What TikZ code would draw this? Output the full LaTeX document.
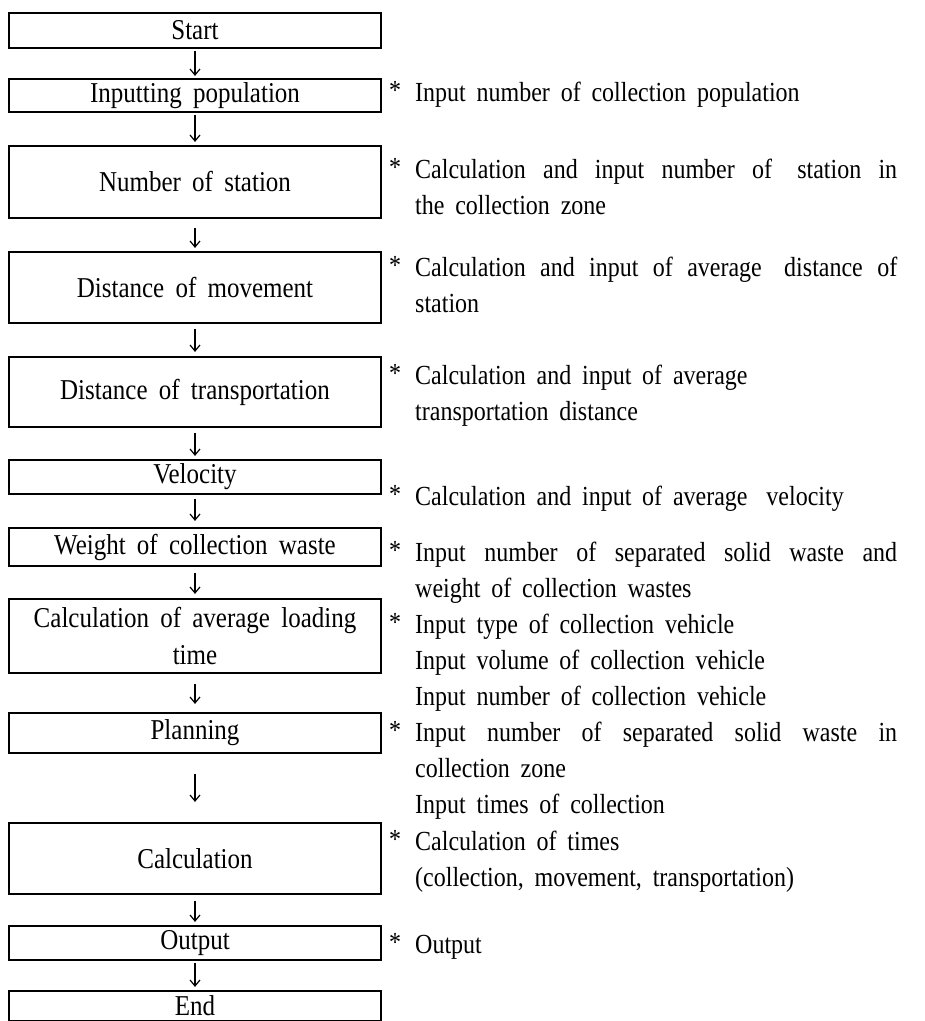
\documentclass[tikz,border=0pt]{standalone}
\usepackage{fontspec}
\setmainfont{Liberation Serif}[WordSpace=1.8]
\usepackage{graphicx}
\usetikzlibrary{arrows.meta}

% slightly tall lettering, as set in the printed chart
\newcommand\tallt[1]{\scalebox{1}[1.15]{#1}}
% first line of a note: raised star, then the text
\newcommand\starred[1]{\makebox[26pt][l]{\raisebox{1.5pt}{*}}#1}
% first line of a note stretched to the full column width
\newcommand\fullline[1]{\makebox[482pt][s]{#1}}

\begin{document}
\begin{tikzpicture}[x=1pt,y=-1pt,
  stepbox/.style={draw, line width=2.2pt, minimum width=372pt, inner sep=0pt,
                  align=center, font=\fontsize{25}{37}\selectfont},
  flow/.style={-{Straight Barb[length=6pt,width=10pt]}, line width=1.2pt},
  note/.style={anchor=base west, inner sep=0pt, font=\fontsize{24}{24}\selectfont}]
\useasboundingbox[fill=white] (0,0) rectangle (925,1021);

% flow chart boxes
\node[stepbox, minimum height=35pt] (start) at (195,30.5)  {\tallt{Start}};
\node[stepbox, minimum height=33pt] (inp)   at (195,95.5)  {\tallt{Inputting population}};
\node[stepbox, minimum height=72pt] (nos)   at (195,182)   {\tallt{Number of station}};
\node[stepbox, minimum height=71pt] (dm)    at (195,287.5) {\tallt{Distance of movement}};
\node[stepbox, minimum height=70pt] (dt)    at (195,392)   {\tallt{Distance of transportation}};
\node[stepbox, minimum height=34pt] (vel)   at (195,477)   {\tallt{Velocity}};
\node[stepbox, minimum height=38pt] (wt)    at (195,547)   {\tallt{Weight of collection waste}};
\node[stepbox, minimum height=74pt] (ca)    at (195,636)   {\tallt{Calculation of average loading}\\\tallt{time}};
\node[stepbox, minimum height=40pt] (pl)    at (195,733)   {\tallt{Planning}};
\node[stepbox, minimum height=71pt] (calc)  at (195,858.5) {\tallt{Calculation}};
\node[stepbox, minimum height=34pt] (out)   at (195,943)   {\tallt{Output}};
\node[stepbox, minimum height=30pt] (end)   at (195,1006)  {\tallt{End}};

% connecting arrows
\draw[flow, shorten <=2pt,  shorten >=2pt]  (start) -- (inp);
\draw[flow, shorten <=2pt,  shorten >=3pt]  (inp)   -- (nos);
\draw[flow, shorten <=9pt,  shorten >=3pt]  (nos)   -- (dm);
\draw[flow, shorten <=5pt,  shorten >=4pt]  (dm)    -- (dt);
\draw[flow, shorten <=5pt,  shorten >=3pt]  (dt)    -- (vel);
\draw[flow, shorten <=4pt,  shorten >=6pt]  (vel)   -- (wt);
\draw[flow, shorten <=6pt,  shorten >=4pt]  (wt)    -- (ca);
\draw[flow, shorten <=10pt, shorten >=8pt]  (ca)    -- (pl);
\draw[flow, shorten <=20pt, shorten >=20pt] (pl)    -- (calc);
\draw[flow, shorten <=6pt,  shorten >=3pt]  (calc)  -- (out);
\draw[flow, shorten <=2pt,  shorten >=3pt]  (out)   -- (end);

% notes beside the boxes
\node[note] (n1)  at (389,101) {\tallt{\starred{Input number of collection population}}};

\node[note] (n2a) at (389,178) {\tallt{\starred{\fullline{Calculation and input number of \hspace{8pt}station in}}}};
\node[note] (n2b) at (415,214) {\tallt{the collection zone}};

\node[note] (n3a) at (389,276) {\tallt{\starred{\fullline{Calculation and input of average \hspace{8pt}distance of}}}};
\node[note] (n3b) at (415,312) {\tallt{station}};

\node[note] (n4a) at (389,384) {\tallt{\starred{Calculation and input of average}}};
\node[note] (n4b) at (415,420) {\tallt{transportation distance}};

\node[note] (n5)  at (389,505) {\tallt{\starred{Calculation and input of average \hspace{8pt}velocity}}};

\node[note] (n6a) at (389,561) {\tallt{\starred{\fullline{Input number of separated solid waste and}}}};
\node[note] (n6b) at (415,597) {\tallt{weight of collection wastes}};

\node[note] (n7a) at (389,633) {\tallt{\starred{Input type of collection vehicle}}};
\node[note] (n7b) at (415,669) {\tallt{Input volume of collection vehicle}};
\node[note] (n7c) at (415,705) {\tallt{Input number of collection vehicle}};

\node[note] (n8a) at (389,741) {\tallt{\starred{\fullline{Input number of separated solid waste in}}}};
\node[note] (n8b) at (415,777) {\tallt{collection zone}};
\node[note] (n8c) at (415,813) {\tallt{Input times of collection}};

\node[note] (n9a) at (389,850) {\tallt{\starred{Calculation of times}}};
\node[note] (n9b) at (415,886) {\tallt{(collection, movement, transportation)}};

\node[note] (n10) at (389,953) {\tallt{\starred{Output}}};
\end{tikzpicture}
\end{document}
